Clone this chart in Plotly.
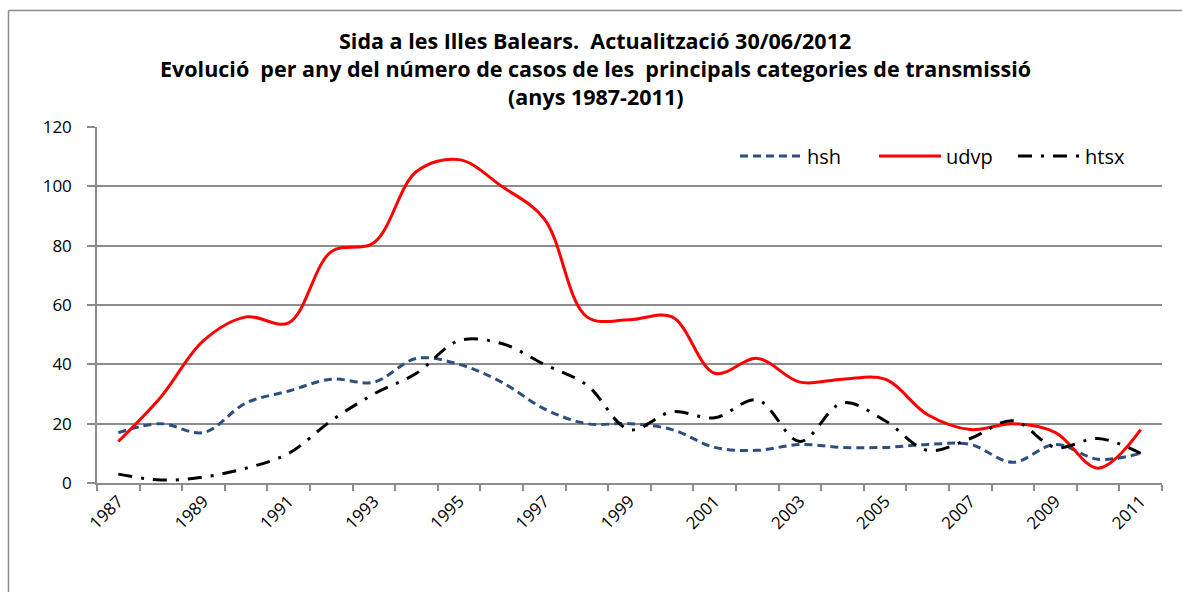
import plotly.graph_objects as go

years = list(range(1987, 2012))
hsh = [17, 20, 17, 27, 31, 35, 34, 42, 40, 34, 25, 20, 20, 18, 12, 11, 13, 12, 12, 13, 13, 7, 13, 8, 10]
udvp = [14, 29, 48, 56, 54, 78, 81, 105, 109, 100, 89, 56, 55, 56, 37, 42, 34, 35, 35, 23, 18, 20, 17, 5, 18]
htsx = [3, 1, 2, 5, 10, 21, 30, 37, 48, 47, 40, 33, 18, 24, 22, 28, 14, 27, 21, 11, 15, 21, 12, 15, 10]
y_ticks = [0, 20, 40, 60, 80, 100, 120]
x_labels = [str(y) for y in years if y % 2 == 1]
title_lines = [
    "Sida a les Illes Balears.  Actualització 30/06/2012",
    "Evolució  per any del número de casos de les  principals categories de transmissió",
    "(anys 1987-2011)",
]

W, H = 1182, 592
L, R, T, B = 97, 1162, 127, 483
pw, ph = R - L, B - T

def px(x):
    return (x - L) / pw

def py(y):
    return (B - y) / ph

FONT = "Open Sans"
GRID = "#8c8c8c"

fig = go.Figure()
fig.add_trace(go.Scatter(x=years, y=hsh, name="hsh", mode="lines",
                         line=dict(color="#2B4F81", width=3, dash="8px,5px", shape="spline", smoothing=1.0)))
fig.add_trace(go.Scatter(x=years, y=udvp, name="udvp", mode="lines",
                         line=dict(color="#FF0000", width=3, shape="spline", smoothing=1.0)))
fig.add_trace(go.Scatter(x=years, y=htsx, name="htsx", mode="lines",
                         line=dict(color="#000000", width=3, dash="14px,9px,3px,9px", shape="spline", smoothing=1.0)))

annotations = []
for txt, yc in zip(title_lines, [41, 68, 96]):
    annotations.append(dict(text="<b>" + txt + "</b>", x=px(595), y=py(yc), xref="paper", yref="paper",
                            xanchor="center", yanchor="middle", showarrow=False,
                            font=dict(family=FONT, size=21.5, color="#000000")))

border = dict(color="#8c8c8c", width=1.5)
fig.update_layout(
    width=W, height=H,
    margin=dict(l=L, r=W - R, t=T, b=H - B, pad=0, autoexpand=False),
    paper_bgcolor="white", plot_bgcolor="white",
    showlegend=True,
    legend=dict(orientation="h", x=px(735), y=py(156), xanchor="left", yanchor="middle",
                font=dict(family=FONT, size=20, color="#000000"), bgcolor="rgba(0,0,0,0)",
                itemwidth=62, entrywidth=62, tracegroupgap=0),
    annotations=annotations,
    shapes=[
        dict(type="line", xref="paper", yref="paper", x0=px(8.5), x1=px(1190), y0=py(10.5), y1=py(10.5),
             line=border, layer="below"),
        dict(type="line", xref="paper", yref="paper", x0=px(8.5), x1=px(8.5), y0=py(10.5), y1=py(600),
             line=border, layer="below"),
    ],
    font=dict(family=FONT, size=16, color="#000000"),
)

fig.update_xaxes(
    range=[1986.5, 2011.5],
    tickmode="array", tickvals=[y for y in years if y % 2 == 1], ticktext=x_labels,
    tickangle=-45, ticks="", ticklen=0,
    tickfont=dict(family=FONT, size=17, color="#000000"),
    showline=True, linecolor=GRID, linewidth=1.5,
    showgrid=False, zeroline=False,
    minor=dict(tickvals=[y - 0.5 for y in years] + [2011.5], ticks="outside", ticklen=6,
               tickcolor=GRID, tickwidth=1.5, showgrid=False),
)
fig.update_yaxes(
    range=[0, 120], tickmode="array", tickvals=y_ticks,
    ticks="outside", ticklen=8, tickcolor=GRID, tickwidth=1.5, ticklabelstandoff=12,
    tickfont=dict(family=FONT, size=17, color="#000000"),
    showline=True, linecolor=GRID, linewidth=1.5,
    showgrid=True, gridcolor=GRID, gridwidth=1.5, zeroline=False,
)

page_css = ("document.documentElement.style.margin='0';document.body.style.margin='0';"
            "document.documentElement.style.overflow='hidden';document.body.style.overflow='hidden';")
fig.write_html("out.html", post_script=page_css, config={"displayModeBar": False})
